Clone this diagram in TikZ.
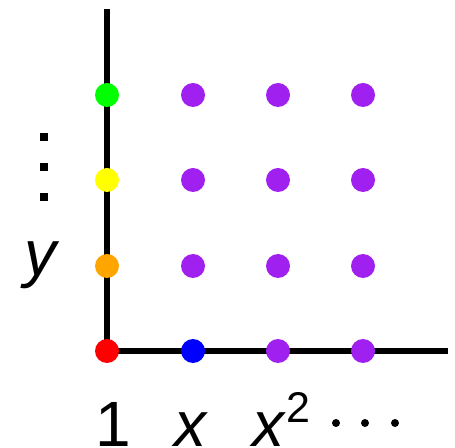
\documentclass[tikz,border=0pt]{standalone}
\usepackage{fontspec}
\setmainfont{Liberation Sans}
\definecolor{dred}{RGB}{255,0,0}
\definecolor{dblue}{RGB}{0,0,255}
\definecolor{dpurple}{RGB}{160,32,240}
\definecolor{dorange}{RGB}{255,165,0}
\definecolor{dyellow}{RGB}{255,255,0}
\definecolor{dgreen}{RGB}{0,255,0}
\begin{document}
\begin{tikzpicture}[x=1pt,y=1pt,
  axis/.style={line width=6pt},
  pt/.style={circle,inner sep=0pt,minimum size=24pt},
  lbl/.style={inner sep=0pt,font=\fontsize{64}{64}\selectfont},
  sup/.style={inner sep=0pt,font=\fontsize{43}{43}\selectfont},
  sq/.style={fill=black,inner sep=0pt,minimum size=8pt},
  rd/.style={circle,fill=black,inner sep=0pt,minimum size=8pt}]
\useasboundingbox (0,0) rectangle (455,447);
\coordinate (top) at (107,438);
\coordinate (right) at (448,96);
\coordinate (o) at (107,96);
\draw[axis] (top) -- (o) -- (right);
% axis points
\node[pt,fill=dred] (p00) at (107,96) {};
\node[pt,fill=dblue] (p10) at (193,96) {};
\node[pt,fill=dpurple] (p20) at (278,96) {};
\node[pt,fill=dpurple] (p30) at (363,96) {};
\node[pt,fill=dorange] (p01) at (107,181) {};
\node[pt,fill=dyellow] (p02) at (107,267) {};
\node[pt,fill=dgreen] (p03) at (107,352) {};
% interior
\node[pt,fill=dpurple] (p11) at (193,181) {};
\node[pt,fill=dpurple] (p21) at (278,181) {};
\node[pt,fill=dpurple] (p31) at (363,181) {};
\node[pt,fill=dpurple] (p12) at (193,267) {};
\node[pt,fill=dpurple] (p22) at (278,267) {};
\node[pt,fill=dpurple] (p32) at (363,267) {};
\node[pt,fill=dpurple] (p13) at (193,352) {};
\node[pt,fill=dpurple] (p23) at (278,352) {};
\node[pt,fill=dpurple] (p33) at (363,352) {};
% labels
\node[lbl,anchor=base] (l1) at (113,1) {1};
\node[lbl,anchor=base] (lx) at (190,1) {\itshape x};
\node[lbl,anchor=base west] (lx2) at (252,1) {\itshape x};
\node[sup,anchor=base west] (l2) at (286,24) {2};
\node[lbl,anchor=base] (ly) at (40,171) {\itshape y};
% dots
\node[rd] (h1) at (336,24) {};
\node[rd] (h2) at (365,24) {};
\node[rd] (h3) at (395,24) {};
\node[sq] (v1) at (44,310) {};
\node[sq] (v2) at (44,280) {};
\node[sq] (v3) at (44,250) {};
\end{tikzpicture}
\end{document}
